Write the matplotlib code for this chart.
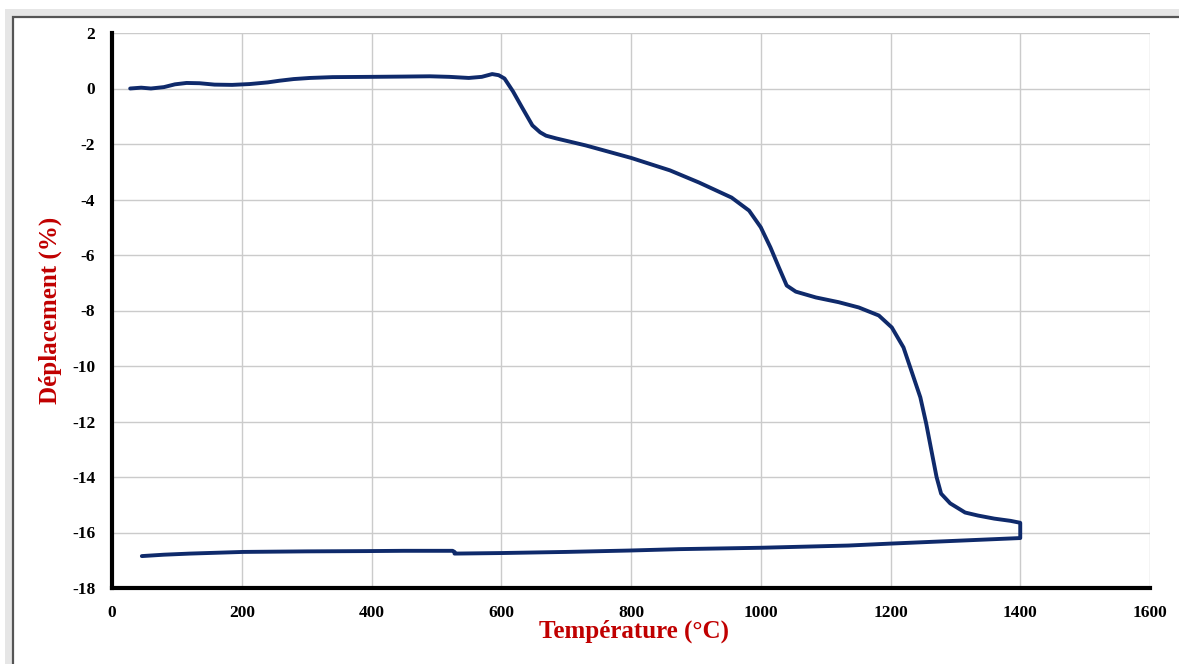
import matplotlib
matplotlib.use("Agg")
import matplotlib.pyplot as plt
from matplotlib.patches import Rectangle

# Dilatometry run: heating branch then cooling branch (temperature in °C, displacement in %)
heat_temp = [28, 45, 60, 80, 97, 115, 135, 158, 185, 212, 240, 258, 280, 305, 340, 400,
             450, 490, 520, 550, 570, 586, 596, 605, 618, 632, 648, 660, 669, 685,
             730, 800, 860, 905, 955, 982, 1000, 1015, 1028, 1040, 1054, 1085, 1120,
             1151, 1182, 1202, 1220, 1232, 1246, 1255, 1263, 1271, 1278, 1292, 1315,
             1335, 1360, 1385, 1400]
heat_disp = [0.0, 0.03, 0.0, 0.05, 0.15, 0.2, 0.19, 0.14, 0.13, 0.16, 0.22, 0.28, 0.34, 0.38,
             0.41, 0.42, 0.43, 0.44, 0.42, 0.38, 0.42, 0.52, 0.48, 0.36, -0.1, -0.68,
             -1.33, -1.58, -1.7, -1.8, -2.05, -2.5, -2.95, -3.39, -3.93, -4.4, -5.0, -5.73,
             -6.45, -7.1, -7.32, -7.53, -7.7, -7.89, -8.18, -8.61, -9.33, -10.16, -11.13,
             -12.07, -13.04, -14.0, -14.6, -14.95, -15.28, -15.39, -15.5, -15.58, -15.65]

cool_temp = [1400, 1400, 1300, 1200, 1135, 1000, 874, 797, 700, 601, 528, 528, 525, 450,
             392, 300, 202, 120, 80, 46]
cool_disp = [-15.65, -16.2, -16.3, -16.4, -16.47, -16.55, -16.6, -16.65, -16.7, -16.74,
             -16.76, -16.7, -16.66, -16.66, -16.67, -16.68, -16.7, -16.76, -16.8, -16.85]

x_ticks = [0, 200, 400, 600, 800, 1000, 1200, 1400, 1600]
y_ticks = [2, 0, -2, -4, -6, -8, -10, -12, -14, -16, -18]

line_color = "#0f2a6b"
label_red = "#c00000"
serif = ["Liberation Serif", "DejaVu Serif"]

fig = plt.figure(figsize=(11.79, 6.64), dpi=100)
fig.patch.set_facecolor("white")

# Window-like frame behind the chart
W, H = 1179, 664
fig.patches.append(Rectangle((5 / W, 0), 1.0, 1 - 9 / H, transform=fig.transFigure,
                             facecolor="#e6e6e6", edgecolor="none", zorder=-3))
fig.patches.append(Rectangle((13 / W, -0.1), 1.2, 1.1 - 17 / H, transform=fig.transFigure,
                             facecolor="white", edgecolor="#555555", linewidth=1.6, zorder=-2))

ax = fig.add_axes([112 / W, 1 - 588 / H, (1150 - 112) / W, (588 - 33) / H])
ax.set_facecolor("none")

temps = heat_temp + cool_temp
disps = heat_disp + cool_disp
ax.plot(temps, disps, color=line_color, linewidth=2.8, solid_joinstyle="round",
        solid_capstyle="round", zorder=3)

ax.set_xlim(0, 1600)
ax.set_ylim(-18, 2)
ax.set_xticks(x_ticks)
ax.set_yticks(y_ticks)
ax.set_xticklabels([str(t) for t in x_ticks], fontfamily=serif, fontweight="bold", fontsize=12.5)
ax.set_yticklabels([str(t) for t in y_ticks], fontfamily=serif, fontweight="bold", fontsize=12.5)
ax.tick_params(axis="x", length=0, pad=12, colors="black")
ax.tick_params(axis="y", length=0, pad=12, colors="black")

ax.grid(True, color="#cbcbcb", linewidth=1.0)
ax.set_axisbelow(True)
for side in ("top", "right"):
    ax.spines[side].set_visible(False)
for side in ("left", "bottom"):
    ax.spines[side].set_linewidth(3.0)
    ax.spines[side].set_color("black")

ax.set_xlabel("Température (°C)", fontfamily=serif, fontweight="bold", fontsize=18,
              color=label_red)
ax.set_ylabel("Déplacement (%)", fontfamily=serif, fontweight="bold", fontsize=18,
              color=label_red)
ax.xaxis.set_label_coords((634 - 112) / 1038, (588 - 631) / 555)
ax.xaxis.label.set_va("center")
ax.yaxis.set_label_coords((50 - 112) / 1038, 0.5)
ax.yaxis.label.set_va("center")

fig.savefig("out.png", dpi=100, facecolor=fig.get_facecolor())
